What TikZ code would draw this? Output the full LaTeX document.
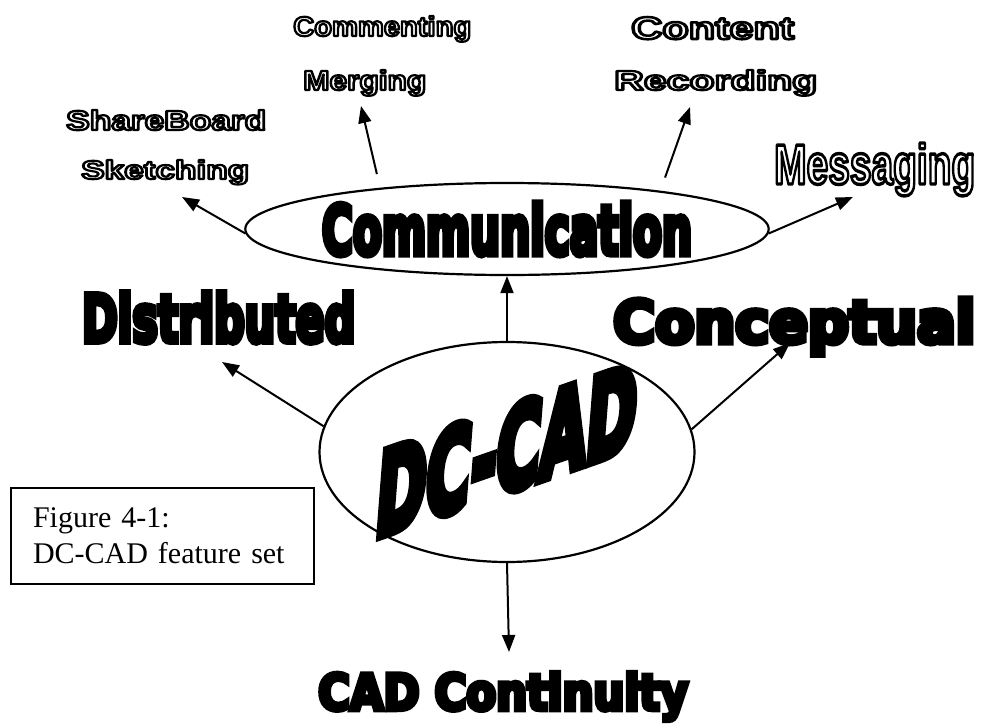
\documentclass[tikz,border=0pt]{standalone}
\usepackage{fontspec}
\usepackage{graphicx}
\setmainfont{Liberation Serif}
\newfontfamily\heavyfont{DejaVu Sans Condensed}[FakeBold=9]
\newfontfamily\rimfont{Liberation Sans}[FakeBold=8]
\newfontfamily\rimwidefont{Liberation Sans}[FakeBold=6]
\usetikzlibrary{arrows.meta, shapes.geometric}

% squeeze a word into a w x h box (pt)
\newcommand\fitto[3]{\resizebox{#1pt}{#2pt}{#3}}

% outlined lettering: white fill, black round-joined stroke from the fake-bold outline
\newcommand\hollow[1]{{\color{white}\special{pdf:literal direct 0 G 1 j}#1}}

\tikzset{
  hub/.style    ={ellipse, draw, line width=2.2pt, inner sep=0pt},
  link/.style   ={-{Triangle[length=17pt,width=13pt]}, line width=2pt},
  bigword/.style={font=\heavyfont\bfseries, inner sep=0pt, anchor=base west},
  rimword/.style={font=\rimfont\bfseries, inner sep=0pt, anchor=base west},
  caption/.style={draw, line width=2pt, anchor=north west, align=left,
                  minimum height=96pt, inner xsep=22pt,
                  text width=259pt, font=\fontsize{30}{36}\selectfont},
}

\begin{document}
\begin{tikzpicture}[x=1pt, y=-1pt]
\useasboundingbox (0,0) rectangle (985,723);

% ---- the two hubs ----
\node[hub, minimum width=375pt, minimum height=220pt] (dccad) at (507,452) {};
\node[hub, minimum width=453pt, minimum height=92pt] (comm) at (507,229)
  {\heavyfont\bfseries\fitto{370}{52}{Communication}};

\begin{scope}[shift={(507,450)}, yslant=0.35]
  \node[font=\heavyfont\bfseries, inner sep=0pt, transform shape, xslant=0.08] (dctag) at (0,0)
    {\fitto{260}{84}{DC-CAD}};
\end{scope}

% ---- features round DC-CAD ----
\node[bigword] (distrib) at (82,342) {\fitto{273}{50}{Distributed}};
\node[bigword] (concept) at (613,343) {\fitto{362}{45}{Conceptual}};
\node[bigword] (contin)  at (318,710) {\fitto{370}{38}{CAD Continuity}};

% ---- communication modes ----
\node[rimword] (share)  at (66,130)  {\hollow{\fitto{200}{20}{ShareBoard}}};
\node[rimword] (sketch) at (81,179)  {\hollow{\fitto{168}{19}{Sketching}}};
\node[rimword] (cmnt)   at (293,36)  {\hollow{\fitto{178}{20}{Commenting}}};
\node[rimword] (merg)   at (303,90)  {\hollow{\fitto{123}{20}{Merging}}};
\node[rimword] (cntnt)  at (631,39)  {\hollow{\fitto{163}{22}{Content}}};
\node[rimword] (recrd)  at (614,90)  {\hollow{\fitto{203}{20}{Recording}}};
\node[rimword, font=\rimwidefont\bfseries] (msg) at (774,184)
  {\hollow{\fitto{201}{41}{Messaging}}};

% arrow tips
\coordinate (tipShare)   at (182,197);
\coordinate (tipMerge)   at (361,106);
\coordinate (tipContent) at (690,107);
\coordinate (tipMsg)     at (853,197);
\coordinate (tipDist)    at (222,362);
\coordinate (tipConc)    at (790,343);
\coordinate (tipCont)    at (509,652);

\draw[link] (comm.181) -- (tipShare);
\draw[link, shorten <=14pt] (comm.162.6) -- (tipMerge);
\draw[link, shorten <=14pt] (comm.14.6) -- (tipContent);
\draw[link] (comm.359) -- (tipMsg);

\draw[link] (dccad.north) -- (comm.south);
\draw[link] (dccad.172.3) -- (tipDist);
\draw[link] (dccad.7.9) -- (tipConc);
\draw[link] (dccad.south) -- (tipCont);

% ---- caption box ----
\node[caption] (cap) at (10,487) {Figure 4-1:\\DC-CAD feature set};

\end{tikzpicture}
\end{document}
